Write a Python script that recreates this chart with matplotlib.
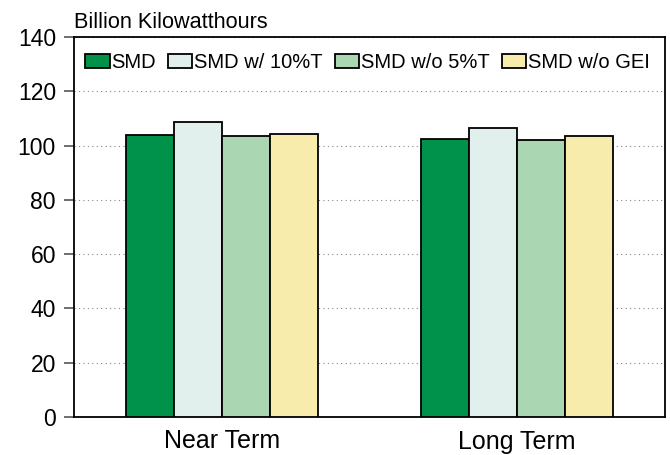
import matplotlib
matplotlib.use("Agg")
import matplotlib.pyplot as plt
import numpy as np

plt.rcParams['font.family'] = ['Liberation Sans', 'DejaVu Sans']

categories = ["Near Term", "Long Term"]
series_names = ["SMD", "SMD w/ 10%T", "SMD w/o 5%T", "SMD w/o GEI"]
smd = [103.9, 102.3]
smd_10t = [108.8, 106.4]
smd_no5t = [103.5, 102.0]
smd_nogei = [104.2, 103.6]
colors = ["#00924A", "#E1F0EC", "#AAD7B2", "#F8ECAC"]
yticks = [0, 20, 40, 60, 80, 100, 120, 140]

values = [smd, smd_10t, smd_no5t, smd_nogei]

fig = plt.figure(figsize=(6.7, 4.55), dpi=100)
ax = fig.add_axes([74/670, 38/455, (665-74)/670, (417-37)/455])

x = np.arange(len(categories))
w = 0.1625
for i, (vals, c, name) in enumerate(zip(values, colors, series_names)):
    ax.bar(x + (i - 1.5) * w, vals, w, color=c, edgecolor="black", linewidth=1.3,
           label=name, zorder=3)

ax.set_xlim(-0.5, 1.5)
ax.set_ylim(0, 140)
ax.set_yticks(yticks)
ax.set_yticklabels([str(t) for t in yticks], fontsize=16.5)
ax.set_xticks(x)
ax.set_xticklabels(categories, fontsize=18)
ax.tick_params(axis='x', length=0, pad=9)
ax.tick_params(axis='y', direction='out', length=7, width=1.2, color="#555555", pad=6)
ax.yaxis.grid(True, linestyle=(0, (1, 3)), color="#888888", linewidth=0.8, zorder=0)
for s in ax.spines.values():
    s.set_linewidth(1.3)
    s.set_color("black")

ax.text(0.0, 1.01, "Billion Kilowatthours", transform=ax.transAxes, fontsize=15.6,
        ha="left", va="bottom")

leg = ax.legend(loc="upper left", ncol=4, frameon=False, fontsize=14.5,
                bbox_to_anchor=(-0.008, 1.0), handlelength=1.2, handleheight=0.75,
                handletextpad=0.1, columnspacing=0.6, borderaxespad=0.4)

fig.savefig("out.png", dpi=100)
